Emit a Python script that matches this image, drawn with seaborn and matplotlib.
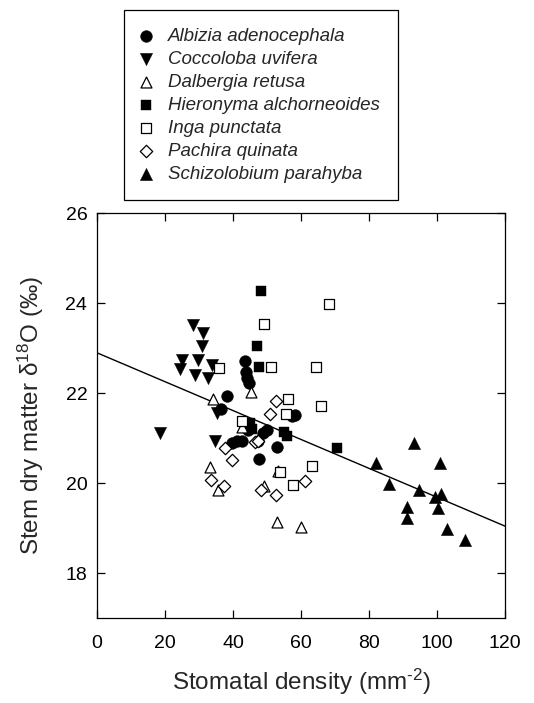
import matplotlib
matplotlib.use("Agg")
import matplotlib.pyplot as plt
import seaborn as sns
import pandas as pd
import numpy as np

# ---------------- data ----------------
species = ["Albizia adenocephala", "Coccoloba uvifera", "Dalbergia retusa",
           "Hieronyma alchorneoides", "Inga punctata", "Pachira quinata",
           "Schizolobium parahyba"]

albizia_x = [43.5, 43.8, 44.2, 44.8, 38.3, 36.6, 39.7, 41.2, 42.7, 47.6, 49.9, 48.7, 52.8, 58.2, 57.5, 44.5, 47.3]
albizia_y = [22.72, 22.47, 22.35, 22.22, 21.95, 21.66, 20.90, 20.95, 20.95, 20.55, 21.18, 21.12, 20.80, 21.52, 21.50, 21.18, 20.95]

coccoloba_x = [28.1, 31.3, 30.8, 24.9, 29.6, 24.4, 28.8, 32.7, 33.7, 18.4, 34.6, 35.4]
coccoloba_y = [23.52, 23.35, 23.04, 22.74, 22.74, 22.54, 22.41, 22.34, 22.63, 21.11, 20.95, 21.56]

dalbergia_x = [34.2, 45.4, 33.3, 35.7, 52.9, 60.0, 42.6, 53.3, 49.2]
dalbergia_y = [21.87, 22.02, 20.37, 19.86, 19.13, 19.03, 21.26, 20.28, 19.93]

hieronyma_x = [48.3, 47.0, 47.7, 45.0, 45.5, 55.0, 55.8, 70.7]
hieronyma_y = [24.28, 23.05, 22.59, 21.35, 21.20, 21.13, 21.05, 20.78]

inga_x = [35.9, 51.3, 49.0, 68.3, 64.4, 56.3, 66.0, 55.7, 42.7, 53.8, 63.2, 57.7]
inga_y = [22.57, 22.59, 23.53, 23.98, 22.58, 21.88, 21.71, 21.53, 21.38, 20.26, 20.39, 19.96]

pachira_x = [52.6, 51.0, 37.6, 39.8, 33.5, 37.4, 48.2, 52.7, 61.1, 46.5, 47.5]
pachira_y = [21.82, 21.55, 20.78, 20.52, 20.08, 19.95, 19.85, 19.74, 20.05, 20.92, 20.95]

schizo_x = [93.3, 82.1, 100.9, 86.0, 94.8, 99.4, 101.1, 100.4, 91.1, 91.1, 103.0, 108.2]
schizo_y = [20.89, 20.46, 20.46, 19.98, 19.85, 19.70, 19.76, 19.44, 19.48, 19.22, 18.98, 18.74]

fit_intercept = 22.90
fit_slope = -0.0321
fit_x = [0, 120]

x_ticks = [0, 20, 40, 60, 80, 100, 120]
y_ticks = [18, 20, 22, 24, 26]

# ---------------- style ----------------
sns.set_style("ticks")
plt.rcParams["font.family"] = ["Liberation Sans", "DejaVu Sans"]
plt.rcParams["mathtext.default"] = "regular"

fig = plt.figure(figsize=(5.34, 7.03), dpi=100)
ax = fig.add_axes([0.1816, 0.1205, 0.9457 - 0.1816, 0.6966 - 0.1205])

groups = [
    (albizia_x, albizia_y, "o", "black", "black", 72),
    (coccoloba_x, coccoloba_y, "v", "black", "black", 78),
    (dalbergia_x, dalbergia_y, "^", "white", "black", 62),
    (hieronyma_x, hieronyma_y, "s", "black", "black", 55),
    (inga_x, inga_y, "s", "white", "black", 46),
    (pachira_x, pachira_y, "D", "white", "black", 40),
    (schizo_x, schizo_y, "^", "black", "black", 78),
]

for name, (xs, ys, mk, fc, ec, s) in zip(species, groups):
    df = pd.DataFrame({"x": xs, "y": ys})
    sns.scatterplot(data=df, x="x", y="y", marker=mk, color=fc, edgecolor=ec,
                    linewidth=0.9 if fc == "white" else 0.3, s=s, ax=ax,
                    label=name, zorder=3)

fit_df = pd.DataFrame({"x": fit_x, "y": [fit_intercept + fit_slope * v for v in fit_x]})
sns.lineplot(data=fit_df, x="x", y="y", color="black", linewidth=1.0, ax=ax, zorder=2)

ax.set_xlim(0, 120)
ax.set_ylim(17, 26)
ax.set_xticks(x_ticks)
ax.set_yticks(y_ticks)
ax.tick_params(direction="in", length=6, width=0.9, top=True, right=True,
               labelsize=14, colors="black")
ax.tick_params(axis="x", pad=12)
ax.tick_params(axis="y", pad=7)
for sp in ax.spines.values():
    sp.set_linewidth(0.9)
    sp.set_color("black")

ax.set_xlabel("Stomatal density (mm$^{\u20102}$)", fontsize=17.5, labelpad=11)
ax.set_ylabel("Stem dry matter δ$^{18}$O (‰)", fontsize=17.5, labelpad=14)

leg = ax.legend(loc="upper left", bbox_to_anchor=(0.232, 0.9858),
                bbox_transform=fig.transFigure, frameon=True, fancybox=False,
                edgecolor="black", framealpha=1,
                prop={"style": "italic", "size": 13.5},
                labelspacing=0.31, handletextpad=0.9, handlelength=0.5,
                borderpad=0.95, borderaxespad=0, scatterpoints=1)
leg.get_frame().set_linewidth(0.9)

fig.savefig("out.png", dpi=100)
